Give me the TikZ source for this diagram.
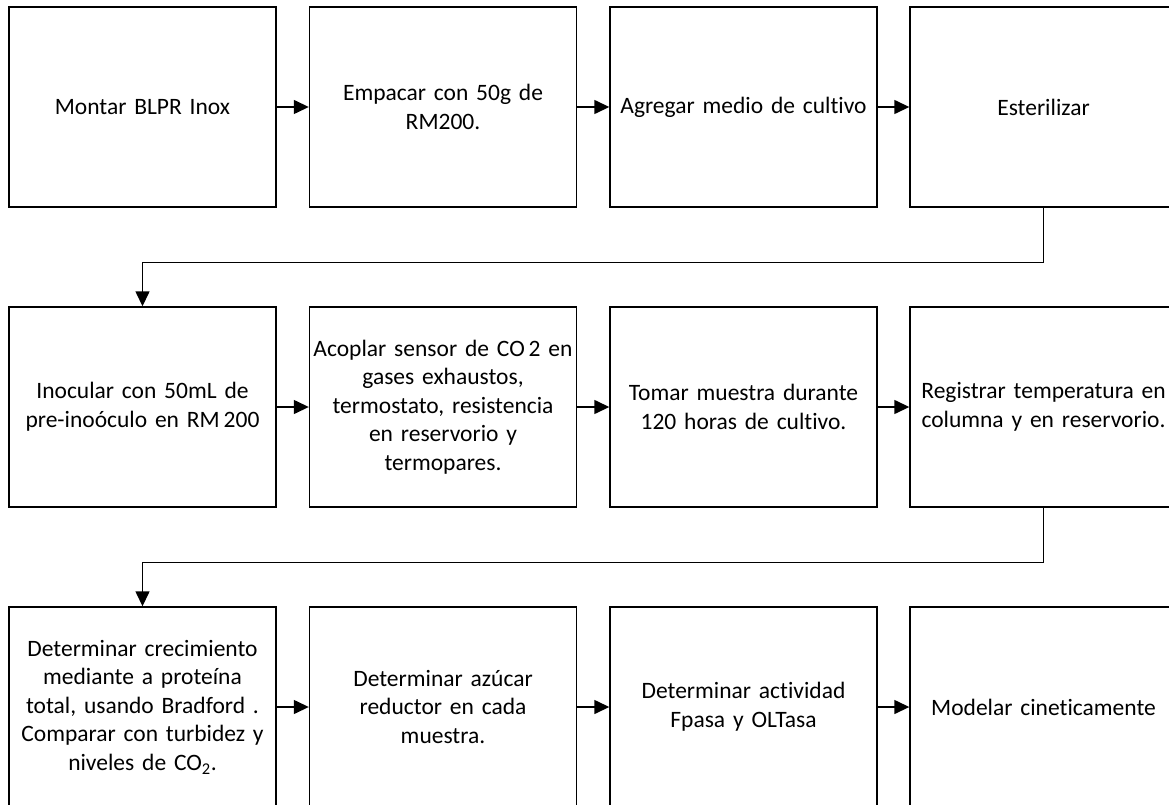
\documentclass[tikz,border=0pt]{standalone}
\usepackage{fontspec}
\setmainfont{Carlito}[Ligatures=NoCommon, WordSpace=0.7]
\usetikzlibrary{arrows.meta}
\hyphenpenalty=10000
\begin{document}
\begin{tikzpicture}[x=1pt,y=-1pt,
  stepbox/.style={draw=black, line width=1.4pt, minimum width=267pt,
    minimum height=200pt, inner sep=0pt, text width=264pt, align=center,
    font=\fontsize{23.5}{28.6}\selectfont},
  flow/.style={draw=black, line width=1.4pt,
    -{Triangle[length=15pt,width=14pt]}}]
\useasboundingbox (0,0) rectangle (1169,805);
\clip (0,0) rectangle (1169,805);

% row 1
\node[stepbox] (a1) at (142.5,107) {Montar BLPR Inox};
\node[stepbox] (a2) at (443,107) {Empacar con 50g de\\RM200.};
\node[stepbox] (a3) at (743.5,107) {Agregar medio de cultivo};
\node[stepbox] (a4) at (1043.5,107) {Esterilizar};

% row 2
\node[stepbox] (b1) at (142.5,407) {Inocular con 50mL de\\pre-inoóculo en RM\,200};
\node[stepbox] (b2) at (443,407) {Acoplar sensor de CO\,2 en\\gases exhaustos,\\termostato, resistencia\\en reservorio y\\termopares.};
\node[stepbox] (b3) at (743.5,407) {Tomar muestra durante\\120 horas de cultivo.};
\node[stepbox] (b4) at (1043.5,407) {Registrar temperatura en\\columna y en reservorio.};

% row 3
\node[stepbox] (c1) at (142.5,707) {Determinar crecimiento\\mediante a proteína\\total, usando Bradford .\\Comparar con turbidez y\\niveles de CO\textsubscript{2}.};
\node[stepbox] (c2) at (443,707) {Determinar azúcar\\reductor en cada\\muestra.};
\node[stepbox] (c3) at (743.5,707) {Determinar actividad\\Fpasa y OLTasa};
\node[stepbox] (c4) at (1043.5,707) {Modelar cineticamente};

% connectors
\draw[flow] (a1) -- (a2);
\draw[flow] (a2) -- (a3);
\draw[flow] (a3) -- (a4);
\draw[flow] (a4.south) -- ++(0,55) -| (b1.north);
\draw[flow] (b1) -- (b2);
\draw[flow] (b2) -- (b3);
\draw[flow] (b3) -- (b4);
\draw[flow] (b4.south) -- ++(0,55) -| (c1.north);
\draw[flow] (c1) -- (c2);
\draw[flow] (c2) -- (c3);
\draw[flow] (c3) -- (c4);
\end{tikzpicture}
\end{document}
